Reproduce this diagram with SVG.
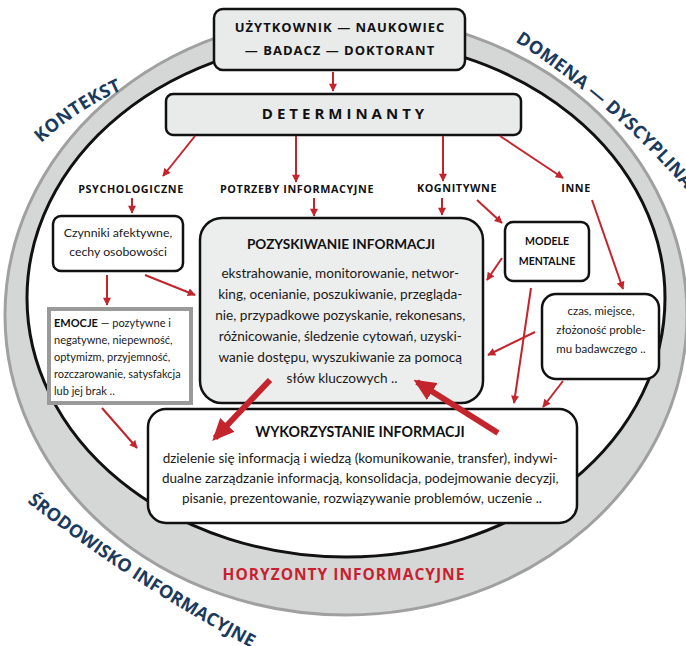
<svg xmlns="http://www.w3.org/2000/svg" width="686" height="646" viewBox="0 0 686 646">
<style>
.ring{font-family:"Open Sans","DejaVu Sans",sans-serif;font-weight:700;font-size:18px;fill:#1b3a5c}
.hdr{font-family:"Open Sans","DejaVu Sans",sans-serif;font-weight:700;fill:#111;text-anchor:middle}
.lbl{font-family:"Open Sans","DejaVu Sans",sans-serif;font-weight:700;font-size:10.8px;letter-spacing:0.6px;fill:#111;text-anchor:middle}
.body{font-family:"Lato","Liberation Sans",sans-serif;fill:#1a1a1a;text-anchor:middle}
.ttl{font-family:"Lato","Liberation Sans",sans-serif;font-weight:700;fill:#111;text-anchor:middle}
.box{stroke:#111;stroke-width:2.5}
.thin{stroke:#c4242c;stroke-width:2;fill:none;marker-end:url(#ah)}
.thick{stroke:#c4242c;stroke-width:6;fill:none;marker-end:url(#bh)}
</style>
<defs>
<marker id="ah" viewBox="0 0 10 10" refX="9" refY="5" markerWidth="9" markerHeight="8" markerUnits="userSpaceOnUse" orient="auto"><path d="M0,0 L10,5 L0,10 z" fill="#c4242c"/></marker>
<marker id="bh" viewBox="0 0 22 20" refX="18" refY="10" markerWidth="22" markerHeight="20" markerUnits="userSpaceOnUse" orient="auto"><path d="M0,0 L22,10 L0,20 z" fill="#c4242c"/></marker>
<path id="pK" d="M 41 143 A 300 300 0 0 1 201 67"/>
<path id="pD" d="M 515 41.3 A 800 800 0 0 1 773.8 313"/>
<path id="pS" d="M 27 502 A 1500 1500 0 0 0 301 673"/>
</defs>
<g id="rings">
<ellipse cx="346" cy="315" rx="341" ry="300" fill="#d5d6d6" stroke="#a0a0a0" stroke-width="3"/>
<ellipse cx="346" cy="298" rx="319" ry="259" fill="#fff" stroke="#111" stroke-width="3"/>
<text class="ring" letter-spacing="0.5"><textPath href="#pK">KONTEKST</textPath></text>
<text class="ring" font-size="17.5" letter-spacing="0.3"><textPath href="#pD">DOMENA — DYSCYPLINA</textPath></text>
<text class="ring" font-size="16.2"><textPath href="#pS">ŚRODOWISKO INFORMACYJNE</textPath></text>
<text x="344" y="580" font-family="'Open Sans','DejaVu Sans',sans-serif" font-weight="700" font-size="15.5" letter-spacing="1" fill="#c8202f" text-anchor="middle">HORYZONTY INFORMACYJNE</text>
</g>
<g id="uzytkownik">
<rect class="box" x="214" y="9" width="251" height="61" rx="9" fill="#e9eaea"/>
<text class="hdr" x="340" y="32" font-size="13" letter-spacing="1">UŻYTKOWNIK — NAUKOWIEC</text>
<text class="hdr" x="340" y="55" font-size="13" letter-spacing="1">— BADACZ — DOKTORANT</text>
</g>
<g id="determinanty">
<rect class="box" x="166" y="94" width="355" height="41" rx="7" fill="#e9eaea"/>
<text class="hdr" x="345" y="119" font-size="15" letter-spacing="4">DETERMINANTY</text>
</g>
<g id="labels">
<text class="lbl" x="131" y="193">PSYCHOLOGICZNE</text>
<text class="lbl" x="297" y="193">POTRZEBY INFORMACYJNE</text>
<text class="lbl" x="457" y="192">KOGNITYWNE</text>
<text class="lbl" x="576" y="192">INNE</text>
</g>
<g id="czynniki">
<rect class="box" x="53" y="216" width="130" height="55" rx="8" fill="#fff"/>
<text class="body" x="118" y="237" font-size="12.3">Czynniki afektywne,</text>
<text class="body" x="118" y="256" font-size="12.3">cechy osobowości</text>
</g>
<g id="emocje">
<rect x="49" y="309" width="142" height="94" fill="#fff" stroke="#9a9a9a" stroke-width="4"/>
<text font-family="Lato,'Liberation Sans',sans-serif" font-size="11" fill="#1a1a1a">
<tspan x="54" y="327"><tspan font-weight="700" fill="#111">EMOCJE</tspan> — pozytywne i</tspan>
<tspan x="54" y="344">negatywne, niepewność,</tspan>
<tspan x="54" y="361">optymizm, przyjemność,</tspan>
<tspan x="54" y="378">rozczarowanie, satysfakcja</tspan>
<tspan x="54" y="395">lub jej brak ..</tspan>
</text>
</g>
<g id="pozyskiwanie">
<rect class="box" x="200" y="218" width="283" height="185" rx="22" fill="#eceded"/>
<text class="ttl" x="341" y="249" font-size="13.6">POZYSKIWANIE INFORMACJI</text>
<text class="body" font-size="13.6">
<tspan x="342" y="278">ekstrahowanie, monitorowanie, networ-</tspan>
<tspan x="342" y="299">king, ocenianie, poszukiwanie, przegląda-</tspan>
<tspan x="342" y="320">nie, przypadkowe pozyskanie, rekonesans,</tspan>
<tspan x="342" y="341">różnicowanie, śledzenie cytowań, uzyski-</tspan>
<tspan x="342" y="362">wanie dostępu, wyszukiwanie za pomocą</tspan>
<tspan x="342" y="383">słów kluczowych ..</tspan>
</text>
</g>
<g id="modele">
<rect class="box" x="505" y="222" width="84" height="59" rx="8" fill="#fff"/>
<text class="ttl" x="547" y="245" font-size="10.5" fill="#333">MODELE</text>
<text class="ttl" x="547" y="265" font-size="10.5" fill="#333">MENTALNE</text>
</g>
<g id="czas">
<rect class="box" x="542" y="294" width="117" height="85" rx="14" fill="#fff"/>
<text class="body" x="601" y="315" font-size="11.5">czas, miejsce,</text>
<text class="body" x="601" y="334" font-size="11.5">złożoność proble-</text>
<text class="body" x="601" y="353" font-size="11.5">mu badawczego ..</text>
</g>
<g id="wykorzystanie">
<rect class="box" x="148" y="409" width="429" height="114" rx="18" fill="#fff"/>
<text class="ttl" x="360" y="437" font-size="14.2">WYKORZYSTANIE INFORMACJI</text>
<text class="body" font-size="13.5">
<tspan x="362" y="463">dzielenie się informacją i wiedzą (komunikowanie, transfer), indywi-</tspan>
<tspan x="362" y="483">dualne zarządzanie informacją, konsolidacja, podejmowanie decyzji,</tspan>
<tspan x="362" y="503">pisanie, prezentowanie, rozwiązywanie problemów, uczenie ..</tspan>
</text>
</g>
<g id="connectors">
<line class="thin" x1="333" y1="72" x2="333" y2="91"/>
<line class="thin" x1="195" y1="136" x2="163" y2="176"/>
<line class="thin" x1="296" y1="136" x2="296" y2="182"/>
<line class="thin" x1="443" y1="136" x2="443" y2="181"/>
<line class="thin" x1="500" y1="136" x2="563" y2="178"/>
<line class="thin" x1="132" y1="198" x2="132" y2="213"/>
<line class="thin" x1="314" y1="198" x2="314" y2="216"/>
<line class="thin" x1="442" y1="198" x2="442" y2="215"/>
<line class="thin" x1="477" y1="200" x2="502" y2="223"/>
<line class="thin" x1="592" y1="200" x2="623" y2="289"/>
<line class="thin" x1="107" y1="275" x2="107" y2="305"/>
<line class="thin" x1="145" y1="275" x2="195" y2="295"/>
<line class="thin" x1="502" y1="258" x2="487" y2="280"/>
<line class="thin" x1="531" y1="288" x2="514" y2="403"/>
<line class="thin" x1="535" y1="332" x2="488" y2="355"/>
<line class="thin" x1="563" y1="381" x2="543" y2="407"/>
<line class="thin" x1="102" y1="408" x2="137" y2="448"/>
<line class="thick" x1="270" y1="380" x2="215" y2="438"/>
<line class="thick" x1="498" y1="433" x2="417" y2="382"/>
</g>
</svg>
